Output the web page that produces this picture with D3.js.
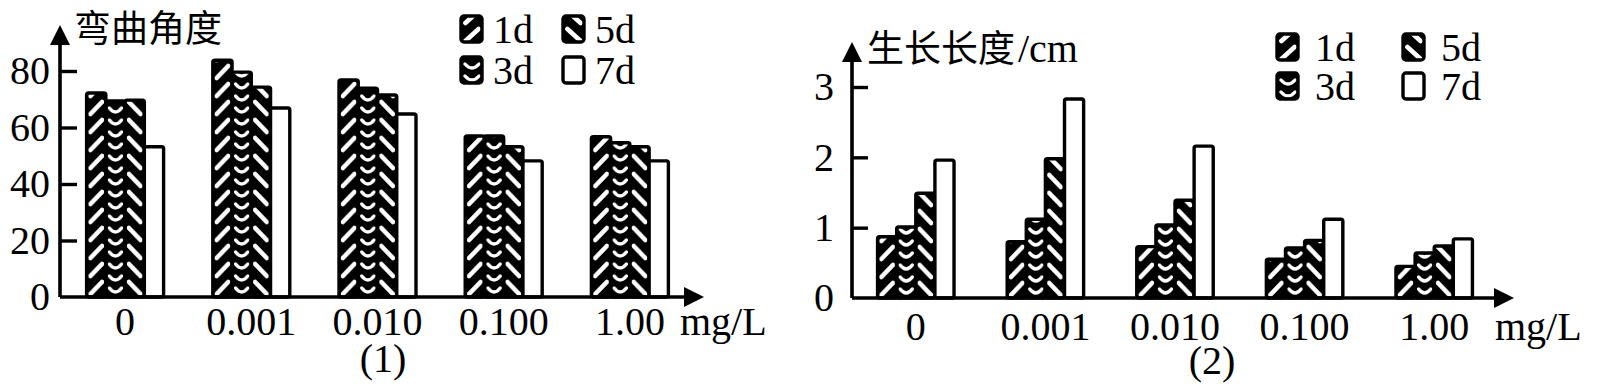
<!DOCTYPE html>
<html>
<head>
<meta charset="utf-8">
<script src="https://cdn.jsdelivr.net/npm/d3@7"></script>
<style>
  html, body { margin: 0; padding: 0; background: #fff; }
  svg { display: block; }
  .num { font-family: "Liberation Serif", "DejaVu Serif", serif; font-size: 40px; fill: #000; }
  .cjk { font-family: "Noto Sans CJK SC", sans-serif; fill: #000; }
</style>
</head>
<body>
<svg id="chart" width="1598" height="389"></svg>
<script>
// ---------- data ----------
const categories = ["0", "0.001", "0.010", "0.100", "1.00"];
const seriesNames = ["1d", "3d", "5d", "7d"];

// chart (1): 弯曲角度
const angle1d = [72.2, 83.8, 76.8, 57.0, 56.7];
const angle3d = [69.4, 79.6, 73.9, 57.0, 54.6];
const angle5d = [69.7, 74.3, 71.5, 53.2, 53.2];
const angle7d = [53.2, 66.9, 64.8, 48.2, 48.2];
const angleTicks = [0, 20, 40, 60, 80];

// chart (2): 生长长度/cm
const len1d = [0.87, 0.80, 0.73, 0.55, 0.45];
const len3d = [1.01, 1.12, 1.04, 0.71, 0.64];
const len5d = [1.49, 1.98, 1.39, 0.82, 0.74];
const len7d = [1.96, 2.83, 2.16, 1.12, 0.84];
const lenTicks = [0, 1, 2, 3];

// legend order (two columns)
const legendLayout = [["1d", 0, 0], ["3d", 0, 1], ["5d", 1, 0], ["7d", 1, 1]];

// ---------- drawing ----------
const svg = d3.select("#chart");
const defs = svg.append("defs");
let patId = 0;

// create a fill pattern for a given series, tile origin at (ox, oy), tile width w
function makePattern(series, ox, oy, w) {
  if (series === "7d") return "#fff";
  const id = "pat" + (patId++);
  const h = series === "3d" ? 12 : 18;
  const p = defs.append("pattern")
    .attr("id", id)
    .attr("patternUnits", "userSpaceOnUse")
    .attr("x", ox).attr("y", oy)
    .attr("width", w).attr("height", h);
  p.append("rect").attr("width", w).attr("height", h).attr("fill", "#000");
  if (series === "1d") {
    p.append("path")
      .attr("d", `M${w * 0.2},${h - 3} L${w * 0.8},3`)
      .attr("stroke", "#fff").attr("stroke-width", 4.6).attr("stroke-linecap", "round");
  } else if (series === "5d") {
    p.append("path")
      .attr("d", `M${w * 0.2},3 L${w * 0.8},${h - 3}`)
      .attr("stroke", "#fff").attr("stroke-width", 4.6).attr("stroke-linecap", "round");
  } else if (series === "3d") {
    p.append("path")
      .attr("d", `M${w * 0.18},3 Q${w / 2},11 ${w * 0.82},3`)
      .attr("fill", "none")
      .attr("stroke", "#fff").attr("stroke-width", 3.4).attr("stroke-linecap", "round");
  }
  return `url(#${id})`;
}

function drawChart(cfg) {
  const g = svg.append("g");
  const y = d3.scaleLinear().domain(cfg.yDomain).range([cfg.base, cfg.yTop]);
  const x = d3.scaleBand().domain(categories).range(cfg.xRange)
    .paddingInner(cfg.padInner).paddingOuter(cfg.padInner / 2);
  const xs = d3.scaleBand().domain(seriesNames).range([0, x.bandwidth()]);

  const seriesData = [cfg.s1, cfg.s3, cfg.s5, cfg.s7];

  // bars
  seriesNames.forEach((s, si) => {
    const vals = seriesData[si];
    categories.forEach((c, ci) => {
      const bx = x(c) + xs(s);
      const by = y(vals[ci]);
      const fill = makePattern(s, bx, cfg.base, xs.bandwidth());
      g.append("rect")
        .attr("x", bx).attr("y", by)
        .attr("width", xs.bandwidth())
        .attr("height", cfg.base - by)
        .attr("rx", 2)
        .attr("fill", fill)
        .attr("stroke", "#000")
        .attr("stroke-width", 3.4);
    });
  });

  // y axis ticks and labels
  const yAxis = d3.axisLeft(y).tickValues(cfg.ticks).tickSize(-cfg.tickLen)
    .tickSizeOuter(0).tickPadding(cfg.yPad).tickFormat(d3.format("d"));
  const ya = g.append("g").attr("transform", `translate(${cfg.axisX},0)`).call(yAxis);
  ya.select(".domain").remove();
  ya.selectAll(".tick line").attr("stroke", "#000").attr("stroke-width", 3.4);
  ya.selectAll(".tick").filter(d => d === 0).select("line").remove();
  ya.selectAll(".tick text").attr("class", "num").attr("font-family", null).attr("font-size", null);
  ya.attr("font-family", null).attr("font-size", null);

  // x axis labels
  const xAxis = d3.axisBottom(x).tickSize(0).tickPadding(cfg.xPad);
  const xa = g.append("g").attr("transform", `translate(0,${cfg.base})`).call(xAxis);
  xa.select(".domain").remove();
  xa.selectAll(".tick text").attr("class", "num");
  xa.attr("font-family", null).attr("font-size", null);

  // axis lines
  g.append("path")
    .attr("d", `M${cfg.axisX},${cfg.base} L${cfg.axisX},${cfg.yArrow + 12} M${cfg.axisX},${cfg.base} L${cfg.xArrow - 12},${cfg.base}`)
    .attr("stroke", "#000").attr("stroke-width", 3.6).attr("fill", "none");
  // arrow heads
  g.append("path")
    .attr("d", `M${cfg.axisX},${cfg.yArrow} L${cfg.axisX - 10},${cfg.yArrow + 20} L${cfg.axisX + 10},${cfg.yArrow + 20} Z`)
    .attr("fill", "#000");
  g.append("path")
    .attr("d", `M${cfg.xArrow},${cfg.base} L${cfg.xArrow - 20},${cfg.base - 10} L${cfg.xArrow - 20},${cfg.base + 10} Z`)
    .attr("fill", "#000");

  // unit label
  g.append("text").attr("class", "num")
    .attr("x", cfg.unitX).attr("y", cfg.unitY).text("mg/L");

  // y title
  const t = g.append("text").attr("x", cfg.titleX).attr("y", cfg.titleY);
  t.append("tspan").attr("class", "cjk").attr("font-size", cfg.titleSize).text(cfg.titleCJK);
  if (cfg.titleLatin) {
    t.append("tspan").attr("class", "num").attr("dx", 3).text(cfg.titleLatin);
  }

  // caption
  g.append("text").attr("class", "num").attr("text-anchor", "middle")
    .attr("x", cfg.capX).attr("y", cfg.capY).text(cfg.caption);

  // legend
  const lg = g.append("g");
  legendLayout.forEach(([s, col, row]) => {
    const lx = cfg.legX + col * cfg.legColW;
    const ly = cfg.legY + row * cfg.legRowH;
    const fill = makePattern(s, lx, ly + 28, 22);
    lg.append("rect")
      .attr("x", lx).attr("y", ly).attr("width", 21).attr("height", 26).attr("rx", 3)
      .attr("fill", fill).attr("stroke", "#000").attr("stroke-width", 3.4);
    lg.append("text").attr("class", "num")
      .attr("x", lx + cfg.legTextDx).attr("y", ly + 27).text(s);
  });
}

drawChart({
  yDomain: [0, 80], base: 297, yTop: 71,
  xRange: [62, 693], padInner: 0.39,
  s1: angle1d, s3: angle3d, s5: angle5d, s7: angle7d,
  ticks: angleTicks, tickLen: 17, yPad: 10, xPad: 10,
  axisX: 60, yArrow: 25, xArrow: 704,
  unitX: 680, unitY: 335,
  titleCJK: "弯曲角度", titleLatin: null, titleX: 74, titleY: 42, titleSize: 37,
  caption: "(1)", capX: 383, capY: 372,
  legX: 461, legY: 16, legColW: 102, legRowH: 41, legTextDx: 32
});

drawChart({
  yDomain: [0, 3], base: 298, yTop: 87,
  xRange: [851, 1499], padInner: 0.41,
  s1: len1d, s3: len3d, s5: len5d, s7: len7d,
  ticks: lenTicks, tickLen: 16, yPad: 18, xPad: 14,
  axisX: 852, yArrow: 42, xArrow: 1514,
  unitX: 1495, unitY: 340,
  titleCJK: "生长长度", titleLatin: "/cm", titleX: 867, titleY: 62, titleSize: 37,
  caption: "(2)", capX: 1212, capY: 374,
  legX: 1277, legY: 34, legColW: 126, legRowH: 39, legTextDx: 38
});
</script>
</body>
</html>
